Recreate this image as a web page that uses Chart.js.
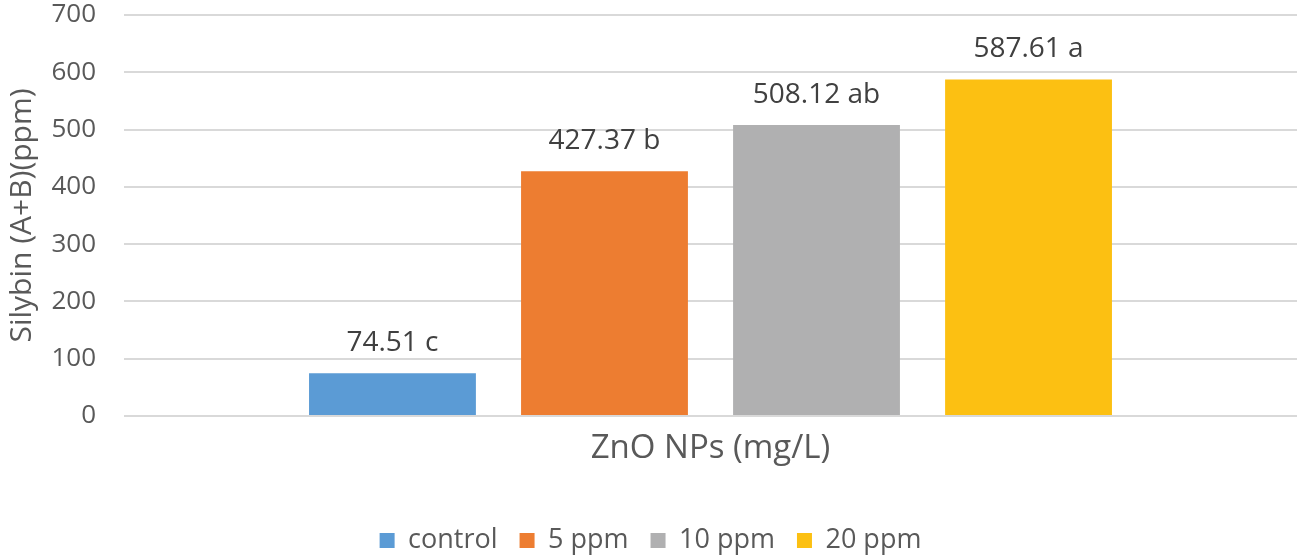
<!DOCTYPE html>
<html>
<head>
<meta charset="utf-8">
<script src="https://cdn.jsdelivr.net/npm/chart.js@4"></script>
<style>
  html, body { margin: 0; padding: 0; background: #fff; }
  #wrap { width: 1299px; height: 559px; }
</style>
</head>
<body>
<div id="wrap"><canvas id="chart"></canvas></div>
<script>
const categories = ["ZnO NPs (mg/L)"];
const seriesNames = ["control", "5 ppm", "10 ppm", "20 ppm"];
const seriesValues = [74.51, 427.37, 508.12, 587.61];
const seriesLetters = ["c", "b", "ab", "a"];
const seriesColors = ["#5B9BD5", "#ED7D31", "#B0B0B1", "#FCC012"];

const FONT = "'Open Sans', sans-serif";

// etykiety nad słupkami
const valueLabels = {
  id: "valueLabels",
  afterDatasetsDraw(chart) {
    const ctx = chart.ctx;
    ctx.save();
    ctx.font = "28px " + FONT;
    ctx.fillStyle = "#404040";
    ctx.textAlign = "center";
    ctx.textBaseline = "middle";
    chart.data.datasets.forEach((ds, i) => {
      const bar = chart.getDatasetMeta(i).data[0];
      ctx.fillText(ds.data[0].toFixed(2) + " " + seriesLetters[i], bar.x, bar.y - 30);
    });
    ctx.restore();
  }
};

const datasets = seriesNames.map((name, i) => ({
  label: name,
  data: [seriesValues[i]],
  backgroundColor: seriesColors[i],
  categoryPercentage: 0.723,
  barPercentage: 0.787
}));

new Chart(document.getElementById("chart"), {
  type: "bar",
  data: { labels: categories, datasets },
  plugins: [valueLabels],
  options: {
    responsive: true,
    maintainAspectRatio: false,
    animation: false,
    layout: { padding: { top: 15, right: 2, left: 4, bottom: -5 } },
    plugins: {
      legend: {
        position: "bottom",
        labels: {
          font: { size: 27, family: FONT },
          color: "#595959",
          boxWidth: 15,
          boxHeight: 15,
          padding: 22
        }
      },
      tooltip: { enabled: false }
    },
    scales: {
      x: {
        grid: { display: false },
        border: { display: false },
        ticks: {
          font: { size: 33, family: FONT },
          color: "#595959",
          padding: 5
        },
        afterFit(scale) { scale.height = 89; }
      },
      y: {
        min: 0,
        max: 700,
        ticks: {
          stepSize: 100,
          font: { size: 26, family: FONT },
          color: "#595959",
          padding: 28
        },
        grid: { color: "#D9D9D9", lineWidth: 2, drawTicks: false },
        border: { display: false },
        title: {
          display: true,
          text: "Silybin (A+B)(ppm)",
          font: { size: 30, family: FONT },
          color: "#595959",
          padding: 0
        },
        afterFit(scale) {
          scale.width = 120;
          // bez dodatkowego marginesu nad/pod osią
          scale.paddingTop = 0;
          scale.paddingBottom = 0;
        }
      }
    }
  }
});
</script>
</body>
</html>
